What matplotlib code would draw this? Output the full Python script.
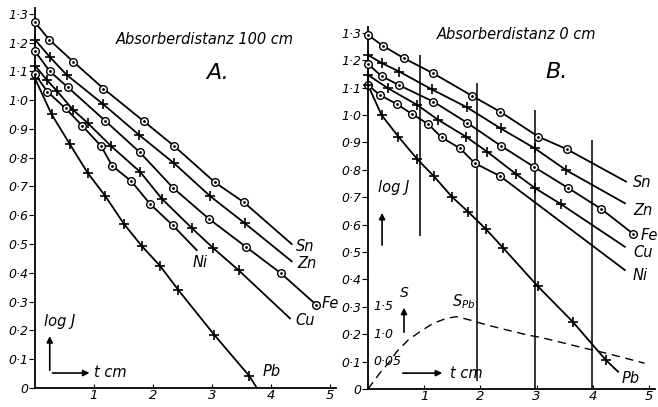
import matplotlib
matplotlib.use('Agg')
import matplotlib.pyplot as plt

plt.rcParams['font.family'] = 'DejaVu Sans'
plt.rcParams['font.style'] = 'italic'

# ---- panel A: Absorberdistanz 100 cm  (t in cm, log J) ----
a_sn_t = [0, 0.24, 0.65, 1.16, 1.84, 2.36, 3.05, 3.54]
a_sn_y = [1.27, 1.21, 1.133, 1.04, 0.927, 0.84, 0.714, 0.645]
a_zn_t = [0, 0.25, 0.54, 1.16, 1.77, 2.36, 2.97, 3.55]
a_zn_y = [1.21, 1.15, 1.087, 0.985, 0.878, 0.78, 0.666, 0.573]
a_fe_t = [0, 0.25, 0.56, 1.19, 1.78, 2.34, 2.95, 3.57, 4.17, 4.76]
a_fe_y = [1.17, 1.10, 1.044, 0.928, 0.818, 0.695, 0.587, 0.491, 0.398, 0.29]
a_cu_t = [0, 0.2, 0.37, 0.65, 0.89, 1.29, 1.78, 2.15, 2.66, 3.02, 3.45]
a_cu_y = [1.12, 1.07, 1.032, 0.965, 0.921, 0.84, 0.751, 0.657, 0.555, 0.486, 0.409]
a_ni_t = [0, 0.21, 0.52, 0.80, 1.12, 1.31, 1.63, 1.95, 2.33]
a_ni_y = [1.09, 1.029, 0.971, 0.911, 0.840, 0.771, 0.719, 0.639, 0.566]
a_pb_t = [0, 0.28, 0.59, 0.89, 1.19, 1.51, 1.81, 2.12, 2.43, 3.04, 3.63]
a_pb_y = [1.075, 0.951, 0.847, 0.748, 0.667, 0.569, 0.493, 0.424, 0.340, 0.184, 0.042]
# where each drawn line stops
a_end_t = {'Sn': 4.35, 'Zn': 4.35, 'Fe': 4.76, 'Cu': 4.32, 'Ni': 2.74, 'Pb': 3.76}
a_end_y = {'Sn': 0.50, 'Zn': 0.44, 'Fe': 0.29, 'Cu': 0.242, 'Ni': 0.479, 'Pb': 0.0}

# ---- panel B: Absorberdistanz 0 cm ----
b_sn_t = [0, 0.26, 0.64, 1.16, 1.85, 2.35, 3.03, 3.54]
b_sn_y = [1.292, 1.253, 1.207, 1.152, 1.07, 1.012, 0.921, 0.875]
b_zn_t = [0, 0.24, 0.56, 1.13, 1.76, 2.36, 2.97, 3.53]
b_zn_y = [1.219, 1.19, 1.158, 1.094, 1.028, 0.951, 0.878, 0.798]
b_fe_t = [0, 0.24, 0.55, 1.16, 1.76, 2.36, 2.95, 3.55, 4.15, 4.72]
b_fe_y = [1.186, 1.142, 1.109, 1.049, 0.972, 0.888, 0.811, 0.735, 0.657, 0.566]
b_cu_t = [0, 0.36, 0.88, 1.25, 1.74, 2.12, 2.63, 2.98, 3.43]
b_cu_y = [1.146, 1.097, 1.036, 0.982, 0.921, 0.866, 0.785, 0.732, 0.675]
b_ni_t = [0, 0.21, 0.51, 0.78, 1.07, 1.31, 1.64, 1.90, 2.35]
b_ni_y = [1.109, 1.073, 1.040, 1.004, 0.967, 0.918, 0.878, 0.824, 0.777]
b_pb_t = [0, 0.24, 0.54, 0.88, 1.17, 1.49, 1.78, 2.10, 2.40, 3.02, 3.64, 4.23]
b_pb_y = [1.109, 1.0, 0.921, 0.838, 0.777, 0.702, 0.647, 0.583, 0.516, 0.375, 0.246, 0.106]
b_end_t = {'Sn': 4.59, 'Zn': 4.57, 'Fe': 4.72, 'Cu': 4.57, 'Ni': 4.57, 'Pb': 4.45}
b_end_y = {'Sn': 0.757, 'Zn': 0.678, 'Fe': 0.566, 'Cu': 0.519, 'Ni': 0.434, 'Pb': 0.063}

# S_Pb curve (dashed), S units; 1 unit of S = 0.2 on the log J scale
s_t = [0, 0.21, 0.36, 0.51, 0.72, 0.93, 1.16, 1.40, 1.58, 1.81, 2.11, 2.46,
       2.82, 3.12, 3.48, 3.83, 4.13, 4.48, 4.92]
s_val = [0, 0.29, 0.47, 0.68, 0.9, 1.05, 1.2, 1.29, 1.32, 1.26, 1.17, 1.08,
         0.99, 0.93, 0.84, 0.75, 0.68, 0.59, 0.47]
S_TO_LOGJ = 0.2
s_ticks = [0.5, 1.0, 1.5]
s_tick_labels = ['0·05', '1·0', '1·5']

# vertical lines in panel B: t, bottom, top
v_t = [0.93, 1.94, 2.98, 3.99]
v_lo = [0.56, 0.03, 0.0, 0.0]
v_hi = [1.22, 1.117, 1.018, 0.909]

x_ticks = [1, 2, 3, 4, 5]
y_ticks = [0, 0.1, 0.2, 0.3, 0.4, 0.5, 0.6, 0.7, 0.8, 0.9, 1.0, 1.1, 1.2, 1.3]

names = ['Sn', 'Zn', 'Fe', 'Cu', 'Ni', 'Pb']
marker_kind = {'Sn': 'o', 'Zn': '+', 'Fe': 'o', 'Cu': '+', 'Ni': 'o', 'Pb': '+'}

# label offsets from the line end (pixels)
a_off = {'Sn': (4, -2, 'left'), 'Zn': (6, -2, 'left'), 'Fe': (6, 1, 'left'),
         'Cu': (5, -2, 'left'), 'Ni': (3, -12, 'center'), 'Pb': (6, 16, 'left')}
b_off = {'Sn': (7, -1, 'left'), 'Zn': (8, -7, 'left'), 'Fe': (7, -2, 'left'),
         'Cu': (9, -6, 'left'), 'Ni': (8, -5, 'left'), 'Pb': (3, -7, 'left')}


def setup(ax):
    ax.set_xlim(0, 5.1)
    ax.set_ylim(0, 1.32)
    for s in ['top', 'right']:
        ax.spines[s].set_visible(False)
    for s in ['left', 'bottom']:
        ax.spines[s].set_linewidth(1.3)
    ax.set_xticks(x_ticks)
    ax.set_xticklabels([str(v) for v in x_ticks], fontsize=9.5)
    ax.set_yticks(y_ticks)
    ax.set_yticklabels(['0' if v == 0 else ('%.1f' % v).replace('.', '·') for v in y_ticks],
                       fontsize=9)
    ax.tick_params(axis='x', direction='in', length=3, pad=1)
    ax.tick_params(axis='y', direction='out', length=4, pad=1)
    ax.patch.set_alpha(0)


def draw_series(ax, t, y, name, end_t, end_y, off):
    ax.plot(list(t) + [end_t[name]], list(y) + [end_y[name]], color='black', lw=1.3,
            clip_on=False, zorder=2)
    if marker_kind[name] == 'o':
        ax.plot(t, y, 'o', ms=5.5, mfc='white', mec='black', mew=1.0, clip_on=False, zorder=3)
        ax.plot(t, y, '.', ms=2, color='black', clip_on=False, zorder=4)
    else:
        ax.plot(t, y, '+', ms=6.5, mec='black', mew=1.2, clip_on=False, zorder=3)
    dx, dy, ha = off[name]
    ax.annotate(name, (end_t[name], end_y[name]), xytext=(dx, dy), textcoords='offset pixels',
                ha=ha, va='center', fontsize=10.5)


fig = plt.figure(figsize=(6.58, 4.07), dpi=100)
axA = fig.add_axes([0.0532, 0.0467, 0.4574, 0.9337])
axB = fig.add_axes([0.5593, 0.0442, 0.4356, 0.8887])
setup(axA)
setup(axB)

a_data = {'Sn': (a_sn_t, a_sn_y), 'Zn': (a_zn_t, a_zn_y), 'Fe': (a_fe_t, a_fe_y),
          'Cu': (a_cu_t, a_cu_y), 'Ni': (a_ni_t, a_ni_y), 'Pb': (a_pb_t, a_pb_y)}
b_data = {'Sn': (b_sn_t, b_sn_y), 'Zn': (b_zn_t, b_zn_y), 'Fe': (b_fe_t, b_fe_y),
          'Cu': (b_cu_t, b_cu_y), 'Ni': (b_ni_t, b_ni_y), 'Pb': (b_pb_t, b_pb_y)}
for n in names:
    draw_series(axA, *a_data[n], n, a_end_t, a_end_y, a_off)
    draw_series(axB, *b_data[n], n, b_end_t, b_end_y, b_off)

# panel B extras
axB.vlines(v_t, v_lo, v_hi, color='#333333', lw=1.4, zorder=1)
axB.plot(s_t, [v * S_TO_LOGJ for v in s_val], color='black', lw=1.0, ls=(0, (6, 4)), zorder=1)
for v, lab in zip(s_ticks, s_tick_labels):
    axB.text(0.09, v * S_TO_LOGJ, lab, fontsize=9, ha='left', va='center')

# titles
axA.text(2.88, 1.212, 'Absorberdistanz 100 cm', fontsize=10.5, ha='center', va='center')
axA.text(3.10, 1.094, 'A.', fontsize=16, ha='center', va='center')
axB.text(2.65, 1.292, 'Absorberdistanz 0 cm', fontsize=10.5, ha='center', va='center')
axB.text(3.36, 1.157, 'B.', fontsize=16, ha='center', va='center')

arrow = dict(arrowstyle='-|>', color='black', lw=1.2, mutation_scale=9)
# panel A axis hints
axA.annotate('', xy=(0.25, 0.19), xytext=(0.25, 0.052), arrowprops=arrow)
axA.annotate('', xy=(0.97, 0.052), xytext=(0.25, 0.052), arrowprops=arrow)
axA.text(1.0, 0.055, 't cm', fontsize=10.5, ha='left', va='center')
axA.text(0.15, 0.23, 'log J', fontsize=10.5, ha='left', va='center')
# panel B axis hints
axB.annotate('', xy=(0.25, 0.653), xytext=(0.25, 0.515), arrowprops=arrow)
axB.text(0.18, 0.737, 'log J', fontsize=10.5, ha='left', va='center')
axB.annotate('', xy=(1.37, 0.058), xytext=(0.57, 0.058), arrowprops=arrow)
axB.text(1.46, 0.058, 't cm', fontsize=10.5, ha='left', va='center')
axB.annotate('', xy=(0.64, 0.307), xytext=(0.64, 0.197), arrowprops=arrow)
axB.text(0.64, 0.35, 'S', fontsize=10, ha='center', va='center')
axB.text(1.49, 0.318, r'S$_{\mathit{Pb}}$', fontsize=10.5, ha='left', va='center')

fig.savefig('out.png', dpi=100)
